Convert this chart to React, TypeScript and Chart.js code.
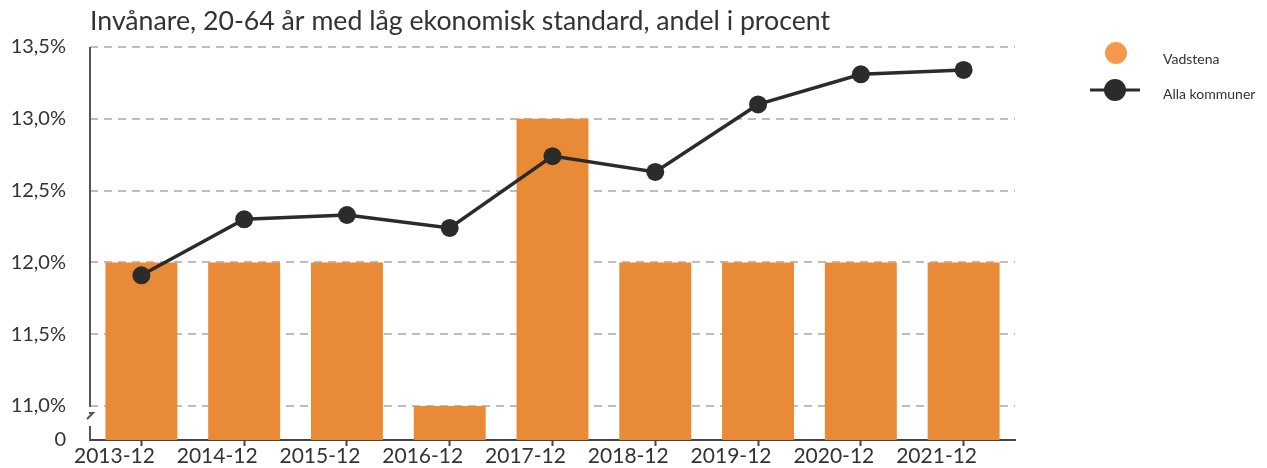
import React, { useEffect, useRef } from "react";
import { Chart, registerables } from "chart.js";

Chart.register(...registerables);

const TITLE = "Invånare, 20-64 år med låg ekonomisk standard, andel i procent";
const categories = ["2013-12", "2014-12", "2015-12", "2016-12", "2017-12", "2018-12", "2019-12", "2020-12", "2021-12"];
const vadstena = [12.0, 12.0, 12.0, 11.0, 13.0, 12.0, 12.0, 12.0, 12.0];
const allaKommuner = [11.91, 12.3, 12.33, 12.24, 12.74, 12.63, 13.1, 13.31, 13.34];
const yTicks = [11.0, 11.5, 12.0, 12.5, 13.0, 13.5];
const Y_MIN = 10.763;
const Y_MAX = 13.5;

const FONT = "Lato, 'Noto Sans', sans-serif";
const BAR_COLOR = "#E98B36";
const LEGEND_BAR_COLOR = "#F8984C";
const LINE_COLOR = "#2B2B2B";

const decorPlugin = {
  id: "decor",
  afterDraw(chart: any) {
    const ctx = chart.ctx;
    const a = chart.chartArea;
    ctx.save();
    // title
    ctx.fillStyle = "#333";
    ctx.font = `26.7px ${FONT}`;
    ctx.textBaseline = "alphabetic";
    ctx.textAlign = "left";
    ctx.fillText(TITLE, a.left, 30);

    // y axis line with break
    ctx.strokeStyle = "#555";
    ctx.lineWidth = 2;
    ctx.beginPath();
    ctx.moveTo(a.left, a.top);
    ctx.lineTo(a.left, a.bottom - 33);
    ctx.stroke();
    ctx.beginPath();
    ctx.moveTo(a.left - 1, a.bottom - 27);
    ctx.lineTo(a.left + 3, a.bottom - 27);
    ctx.lineTo(a.left - 3, a.bottom - 21);
    ctx.stroke();
    ctx.beginPath();
    ctx.moveTo(a.left, a.bottom - 14);
    ctx.lineTo(a.left, a.bottom);
    ctx.stroke();

    // legend
    ctx.fillStyle = LEGEND_BAR_COLOR;
    ctx.beginPath();
    ctx.arc(1116, 53, 11, 0, Math.PI * 2);
    ctx.fill();
    ctx.strokeStyle = LINE_COLOR;
    ctx.lineWidth = 3;
    ctx.beginPath();
    ctx.moveTo(1090, 90);
    ctx.lineTo(1140, 90);
    ctx.stroke();
    ctx.fillStyle = LINE_COLOR;
    ctx.beginPath();
    ctx.arc(1115, 90, 11, 0, Math.PI * 2);
    ctx.fill();
    ctx.fillStyle = "#333";
    ctx.font = `14px ${FONT}`;
    ctx.fillText("Vadstena", 1163, 64);
    ctx.fillText("Alla kommuner", 1163, 99);
    ctx.restore();
  },
};

export default function App() {
  const ref = useRef<HTMLCanvasElement | null>(null);
  useEffect(() => {
    if (!ref.current) return;
    const chart = new Chart(ref.current, {
      type: "bar",
      data: {
        labels: categories,
        datasets: [
          {
            type: "line",
            label: "Alla kommuner",
            data: allaKommuner,
            borderColor: LINE_COLOR,
            backgroundColor: LINE_COLOR,
            borderWidth: 3.5,
            pointRadius: 9,
            pointHoverRadius: 9,
            pointBackgroundColor: LINE_COLOR,
            pointBorderWidth: 0,
            tension: 0,
            order: 0,
          } as any,
          {
            type: "bar",
            label: "Vadstena",
            data: vadstena,
            backgroundColor: BAR_COLOR,
            barPercentage: 0.7,
            categoryPercentage: 1,
            order: 1,
          },
        ],
      },
      options: {
        responsive: false,
        animation: false,
        layout: { padding: { left: 0, top: 47, right: 252, bottom: 0 } },
        plugins: { legend: { display: false }, title: { display: false }, tooltip: { enabled: false } },
        scales: {
          x: {
            offset: true,
            grid: { offset: false, drawOnChartArea: false, drawTicks: true, tickLength: 6, tickColor: "#444", tickWidth: 2 },
            border: { display: true, color: "#444", width: 2 },
            ticks: {
              color: "#333",
              font: { family: FONT, size: 21 },
              padding: -2,
              labelOffset: -27,
              maxRotation: 0,
              autoSkip: false,
            },
            afterFit(scale: any) {
              scale.height = 28;
              scale.paddingLeft = 0;
              scale.paddingRight = 0;
              scale.paddingTop = 0;
              scale.paddingBottom = 0;
            },
          },
          y: {
            min: Y_MIN,
            max: Y_MAX,
            afterBuildTicks(scale: any) {
              scale.ticks = [{ value: Y_MIN }, ...yTicks.map((v) => ({ value: v }))];
            },
            afterFit(scale: any) {
              scale.width = 90;
              scale.paddingTop = 0;
              scale.paddingBottom = 0;
              scale.paddingLeft = 0;
              scale.paddingRight = 0;
            },
            border: { display: false, dash: [8, 6] },
            grid: {
              drawTicks: false,
              tickLength: 0,
              lineWidth: 2,
              color: (c: any) => (c.tick && c.tick.value === Y_MIN ? "rgba(0,0,0,0)" : "#BDBDBD"),
            },
            ticks: {
              color: "#333",
              padding: 24,
              font: { family: FONT, size: 20 },
              callback: (v: any) => (v === Y_MIN ? "0" : Number(v).toFixed(1).replace(".", ",") + "%"),
            },
          } as any,
        },
      } as any,
      plugins: [decorPlugin],
    });
    return () => chart.destroy();
  }, []);
  return (
    <div style={{ position: "absolute", left: 0, top: 0, width: 1267, height: 468, background: "#fff" }}>
      <canvas ref={ref} width={1267} height={468} style={{ display: "block" }} />
    </div>
  );
}
